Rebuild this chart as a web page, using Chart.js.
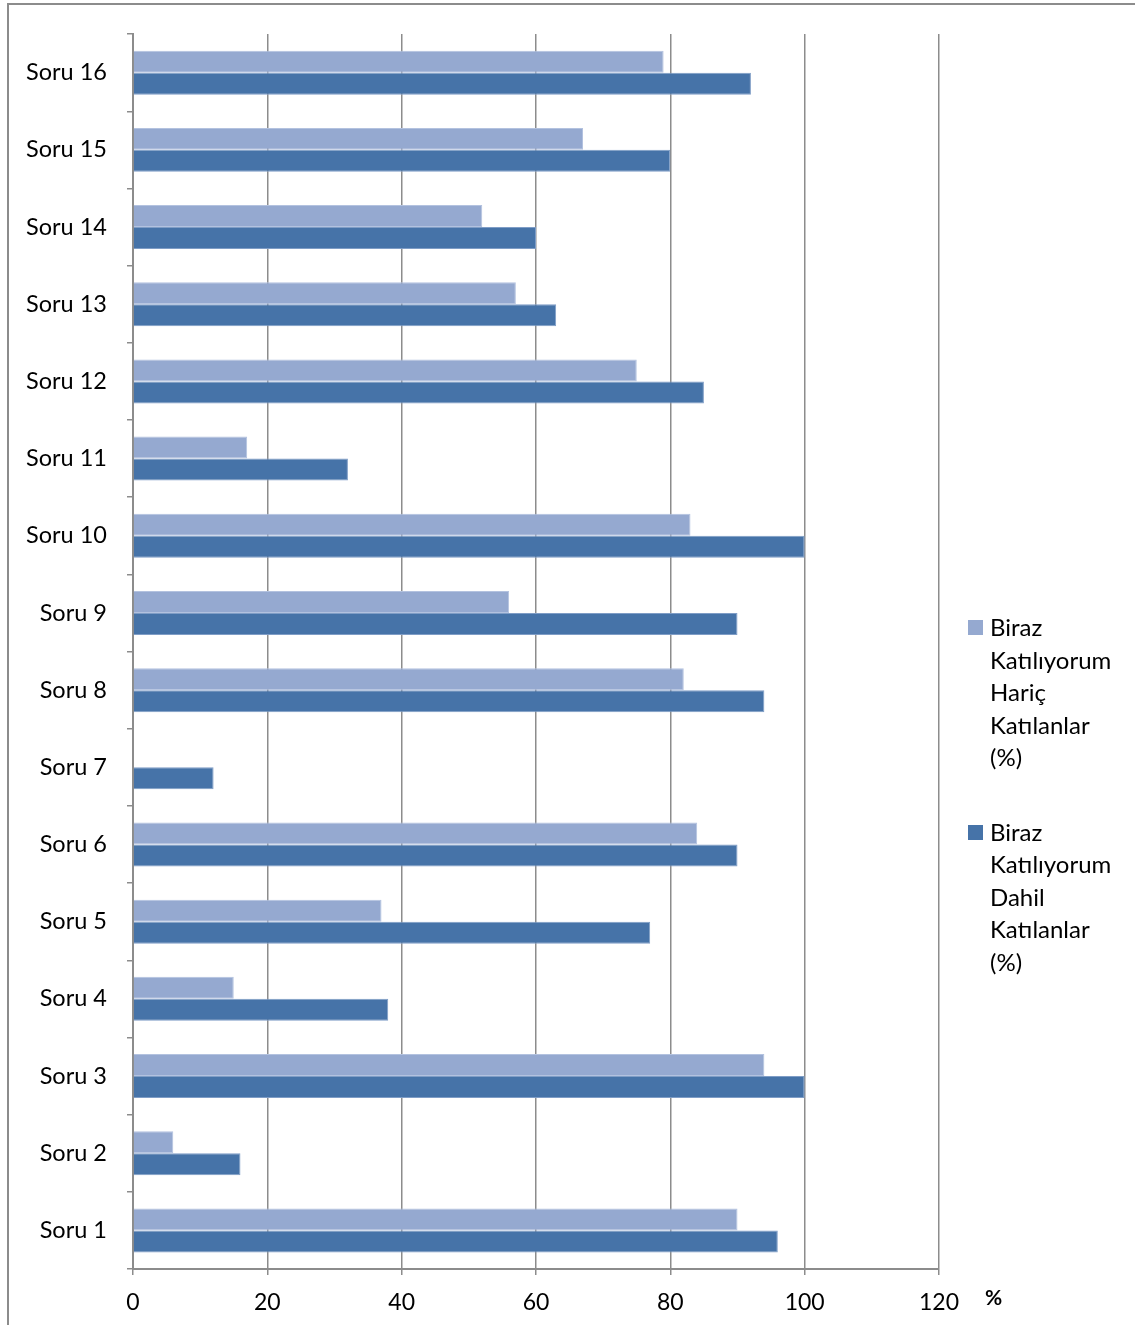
<!DOCTYPE html>
<html>
<head>
<meta charset="utf-8">
<script src="https://cdn.jsdelivr.net/npm/chart.js@4/dist/chart.umd.min.js"></script>
<style>
  html, body { margin: 0; padding: 0; background: #fff; }
  #wrap { position: relative; width: 1135px; height: 1325px; overflow: hidden; font-family: Lato, "Open Sans", sans-serif; }
  #frame { position: absolute; left: 7px; top: 3px; width: 1200px; height: 1400px; border-top: 2px solid #8c8c8c; border-left: 2px solid #8c8c8c; }
  canvas { position: absolute; left: 0; top: 0; }
  #legend { position: absolute; left: 968px; top: 611px; color: #000; font-size: 24px; line-height: 32.5px; }
  .item { position: relative; padding-left: 22px; margin-bottom: 42px; }
  .box { position: absolute; left: 0; top: 9px; width: 15px; height: 15px; }
  #unit { position: absolute; left: 985px; top: 1284px; font-size: 21px; font-weight: bold; color: #000; }
</style>
</head>
<body>
<div id="wrap">
  <div id="frame"></div>
  <canvas id="c" width="1135" height="1325"></canvas>
  <div id="legend"></div>
  <div id="unit">%</div>
</div>
<script>
// Questions, listed top to bottom as they appear on the chart
const questions = ["Soru 16", "Soru 15", "Soru 14", "Soru 13", "Soru 12", "Soru 11", "Soru 10", "Soru 9",
                   "Soru 8", "Soru 7", "Soru 6", "Soru 5", "Soru 4", "Soru 3", "Soru 2", "Soru 1"];

// Agreement share excluding "somewhat agree" (%)
const haric = [79, 67, 52, 57, 75, 17, 83, 56, 82, 0, 84, 37, 15, 94, 6, 90];

// Agreement share including "somewhat agree" (%)
const dahil = [92, 80, 60, 63, 85, 32, 100, 90, 94, 12, 90, 77, 38, 100, 16, 96];

const seriesNames = [
  ["Biraz", "Katılıyorum", "Hariç", "Katılanlar", "(%)"],
  ["Biraz", "Katılıyorum", "Dahil", "Katılanlar", "(%)"]
];

const xTicks = [0, 20, 40, 60, 80, 100, 120];

const colLight = "#95a9d0";
const colDark = "#4673a8";
const gridCol = "#8c8c8c";
const fontFamily = "Lato, 'Open Sans', sans-serif";

const chart = new Chart(document.getElementById("c"), {
  type: "bar",
  data: {
    labels: questions,
    datasets: [
      { label: seriesNames[0].join(" "), data: haric, backgroundColor: colLight, borderColor: "#b3c2df", borderWidth: 1 },
      { label: seriesNames[1].join(" "), data: dahil, backgroundColor: colDark, borderColor: "#7f9dc6", borderWidth: 1 }
    ]
  },
  options: {
    indexAxis: "y",
    responsive: false,
    animation: false,
    devicePixelRatio: 1,
    layout: { padding: { top: 34, right: 196, left: 0, bottom: 0 } },
    datasets: { bar: { categoryPercentage: 0.57, barPercentage: 1.0 } },
    plugins: { legend: { display: false }, tooltip: { enabled: false } },
    scales: {
      x: {
        min: 0, max: 120,
        afterBuildTicks: (s) => { s.ticks = xTicks.map(v => ({ value: v })); },
        afterFit: (s) => { s.height = 56; },
        grid: { color: gridCol, lineWidth: 1.5, tickLength: 6, drawTicks: true },
        border: { color: gridCol, width: 2 },
        ticks: { color: "#000", font: { family: fontFamily, size: 23 }, padding: 14, maxRotation: 0 }
      },
      y: {
        afterFit: (s) => { s.width = 133; },
        grid: { drawOnChartArea: false, offset: true, color: gridCol, lineWidth: 1.5, tickLength: 6 },
        border: { color: gridCol, width: 2 },
        ticks: { color: "#000", font: { family: fontFamily, size: 23.5 }, padding: 20 }
      }
    }
  }
});

// HTML legend with the wrapped series names
const legend = document.getElementById("legend");
[colLight, colDark].forEach((c, i) => {
  const item = document.createElement("div");
  item.className = "item";
  const box = document.createElement("span");
  box.className = "box";
  box.style.background = c;
  item.appendChild(box);
  item.insertAdjacentHTML("beforeend", seriesNames[i].join("<br>"));
  legend.appendChild(item);
});
</script>
</body>
</html>
